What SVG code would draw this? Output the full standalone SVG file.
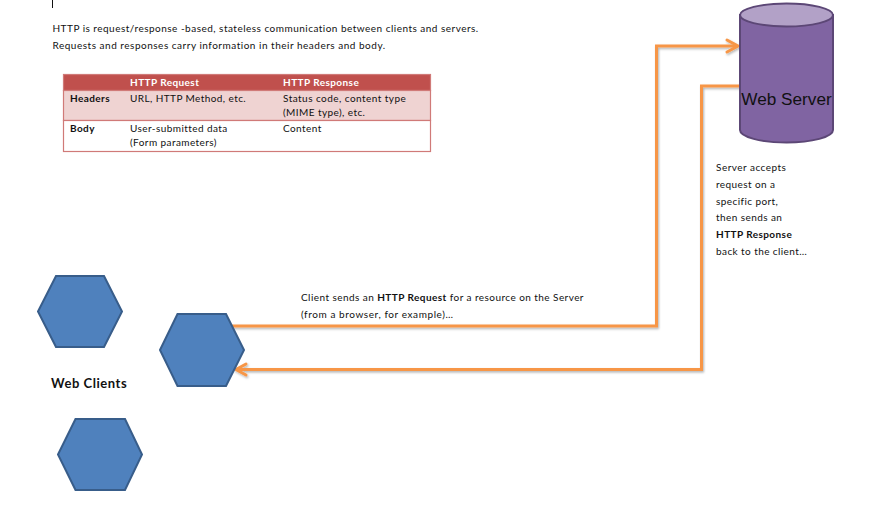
<svg xmlns="http://www.w3.org/2000/svg" width="875" height="509" viewBox="0 0 875 509">
<style>
text{font-family:Lato,"Liberation Sans",sans-serif;font-size:10px;fill:#111;letter-spacing:.42px}
.b{font-weight:700}
.w{fill:#fff}
.hex{fill:#4f81bd;stroke:#385d8a;stroke-width:2}
.wire{fill:none;stroke:#f79646;stroke-width:3;stroke-linejoin:miter}
.cell{stroke:#d07a78;stroke-width:1.2}
</style>
<defs>
<filter id="sh" x="-10%" y="-10%" width="120%" height="120%"><feDropShadow dx="1" dy="1.5" stdDeviation="1" flood-color="#000" flood-opacity=".3"/></filter>
</defs>
<rect x="0" y="0" width="875" height="509" fill="#fff"/>
<rect x="52" y="0" width="1" height="8" fill="#111"/>
<g id="intro">
<text x="52.500" y="32" style="letter-spacing:.48px">HTTP is request/response -based, stateless communication between clients and servers.</text>
<text x="52.500" y="49" style="letter-spacing:.51px">Requests and responses carry information in their headers and body.</text>
</g>
<g id="table">
<rect class="cell" x="63.500" y="74.500" width="367" height="16" fill="#c0504d"/>
<rect class="cell" x="63.500" y="90.500" width="367" height="30" fill="#efd3d2"/>
<rect class="cell" x="63.500" y="120.500" width="367" height="31" fill="#fff"/>
<text class="b w" x="130" y="86">HTTP Request</text>
<text class="b w" x="283" y="86">HTTP Response</text>
<text class="b" x="70" y="102">Headers</text>
<text x="130" y="102">URL, HTTP Method, etc.</text>
<text x="283" y="102" style="letter-spacing:.46px">Status code, content type</text>
<text x="283" y="116">(MIME type), etc.</text>
<text class="b" x="70" y="132">Body</text>
<text x="130" y="132">User-submitted data</text>
<text x="130" y="146">(Form parameters)</text>
<text x="283" y="132">Content</text>
</g>
<g id="connectors" filter="url(#sh)">
<path class="wire" d="M232 326H656.500V46H737"/>
<path class="wire" d="M727 40L738 46L727 52" stroke-linecap="round"/>
<path class="wire" d="M740 86H701.500V369.500H237"/>
<path class="wire" d="M246 364L236 369.500L246 375" stroke-linecap="round"/>
</g>
<g id="web-server">
<path d="M740 15V130C740 137 761 142.500 786.500 142.500S833 137 833 130V15Z" fill="#8064a2" stroke="#5c4776" stroke-width="2"/>
<ellipse cx="786.500" cy="15" rx="46.500" ry="11.500" fill="#b2a1c7" stroke="#5c4776" stroke-width="2"/>
<text x="786.500" y="105" text-anchor="middle" style="font-family:'Liberation Sans',Arial,sans-serif;font-size:17.200px;letter-spacing:0">Web Server</text>
</g>
<g id="server-note">
<text x="716" y="171" style="letter-spacing:.48px">Server accepts</text>
<text x="716" y="188">request on a</text>
<text x="716" y="205">specific port,</text>
<text x="716" y="221">then sends an</text>
<text class="b" x="716" y="238">HTTP Response</text>
<text x="716" y="255">back to the client…</text>
</g>
<g id="request-note">
<text x="301" y="301" style="letter-spacing:.44px">Client sends an <tspan class="b">HTTP Request</tspan> for a resource on the Server</text>
<text x="301" y="318" style="letter-spacing:.58px">(from a browser, for example)…</text>
</g>
<g id="client-1"><polygon class="hex" points="38,311.500 56,276 104,276 122,311.500 104,347 56,347"/></g>
<g id="client-2"><polygon class="hex" points="160,350 177.500,314 226,314 244,350 226,386 177.500,386"/></g>
<g id="client-3"><polygon class="hex" points="58,454.500 75.500,419 125,419 142,454.500 125,490 75.500,490"/></g>
<g id="web-clients-label"><text class="b" x="51" y="388" style="font-size:13px;letter-spacing:.55px">Web Clients</text></g>
</svg>
